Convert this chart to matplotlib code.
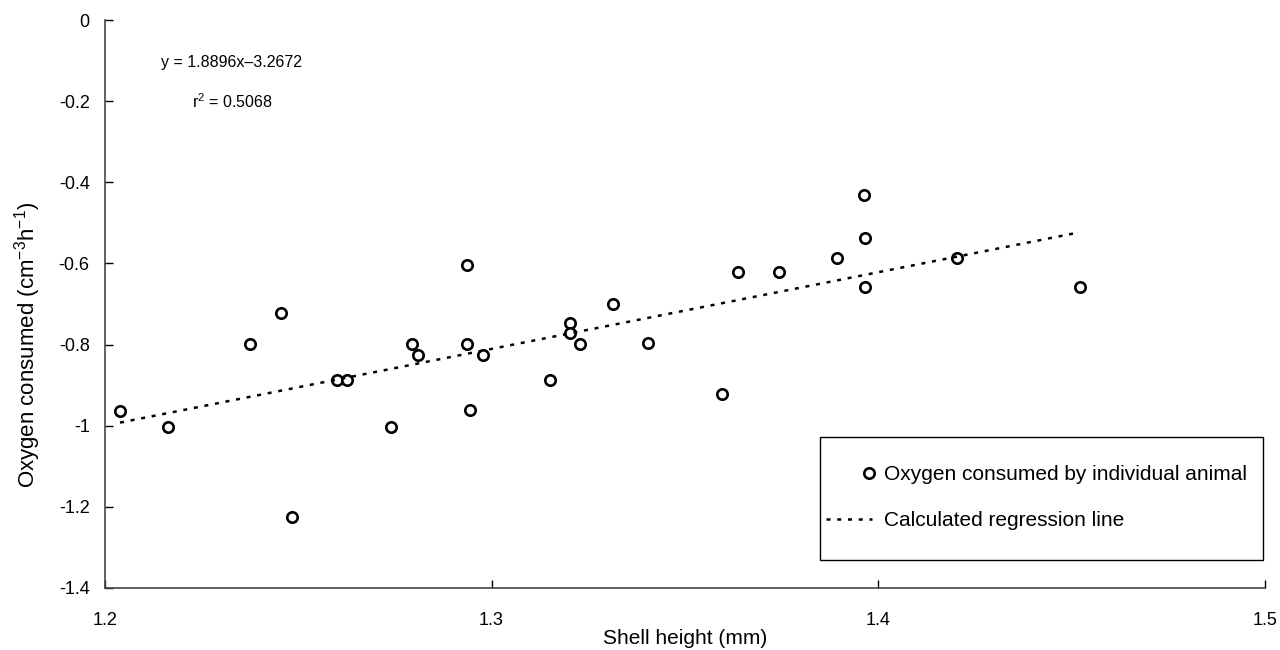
#!/usr/bin/env python3

from matplotlib import pyplot as pl
from matplotlib.patches import Rectangle
from matplotlib.legend_handler import HandlerLine2D
import numpy as np

# shell height (mm) and oxygen consumed, one value per animal
height = [1.2039, 1.2163, 1.2375, 1.2455, 1.2485, 1.2599, 1.2625, 1.2739,
          1.2793, 1.2809, 1.2937, 1.2937, 1.2945, 1.2979, 1.3150, 1.3202,
          1.3202, 1.3230, 1.3313, 1.3406, 1.3597, 1.3638, 1.3744, 1.3894,
          1.3964, 1.3966, 1.3966, 1.4204, 1.4522]
oxygen = [-0.964, -1.003, -0.799, -0.723, -1.225, -0.887, -0.887, -1.003,
          -0.799, -0.826, -0.604, -0.799, -0.961, -0.826, -0.887, -0.747,
          -0.771, -0.799, -0.700, -0.796, -0.922, -0.621, -0.621, -0.587,
          -0.431, -0.537, -0.658, -0.587, -0.658]

slope = 1.8896
intercept = -3.2672


class RightMarker(HandlerLine2D):
    # put the legend marker at the right end of the handle
    # (the middle of the returned span is where the marker goes)
    def get_xdata(self, legend, xdescent, ydescent, width, height, fontsize):
        m = -xdescent + 0.93 * width
        return [m - 1, m + 1], [m]


pl.rcParams['font.family'] = ['Liberation Sans', 'DejaVu Sans']
pl.rcParams['mathtext.fontset'] = 'custom'
pl.rcParams['mathtext.rm'] = 'Liberation Sans'

fig = pl.figure(figsize=(12.8, 6.5), dpi=100)
ax = fig.add_axes([0.082, 0.0954, 0.906, 0.8738])

pts, = ax.plot(height, oxygen, linestyle='none', marker='o', markersize=7.5,
               markerfacecolor='white', markeredgecolor='black',
               markeredgewidth=1.9, label='Oxygen consumed by individual animal')

xfit = np.array([min(height), max(height) - 0.001])
ax.plot(xfit, slope * xfit + intercept, color='black', linewidth=1.8,
        linestyle=(0, (1.6, 2.7)), label='Calculated regression line')

ax.set_xlim(1.2, 1.5)
ax.set_ylim(-1.4, 0)
ax.set_xticks([1.2, 1.3, 1.4, 1.5])
ax.set_xticklabels(['1.2', '1.3', '1.4', '1.5'])
ax.set_yticks(np.arange(-1.4, 0.01, 0.2))
ax.set_yticklabels(['-1.4', '-1.2', '-1', '-0.8', '-0.6', '-0.4', '-0.2', '0'])

ax.spines['top'].set_visible(False)
ax.spines['right'].set_visible(False)
for s in ('left', 'bottom'):
    ax.spines[s].set_color('#444444')
    ax.spines[s].set_linewidth(1.2)
ax.tick_params(direction='in', length=6, width=1, labelsize=13)
ax.tick_params(axis='x', pad=17)
ax.tick_params(axis='y', pad=11)

ax.set_xlabel('Shell height (mm)', fontsize=15, labelpad=0)
ax.set_ylabel(r'Oxygen consumed (cm$\mathregular{^{-3}}$h$\mathregular{^{-1}}$)',
              fontsize=16)
ax.yaxis.set_label_coords(-0.053, 0.428)

ax.text(1.2145, -0.104, 'y = 1.8896x\u20133.2672', fontsize=11.5, va='center')
ax.text(1.2225, -0.2, r'$\mathregular{r^2}$ = 0.5068', fontsize=11.5,
        va='center')

# legend box drawn separately: wide vertical padding in the original
ax.add_patch(Rectangle((0.6164, 0.0493), 0.382, 0.2165,
                       transform=ax.transAxes, facecolor='white',
                       edgecolor='black', linewidth=1.0, zorder=3))
leg = ax.legend(loc='upper left', bbox_to_anchor=(0.622, 0.216),
                fontsize=15, frameon=False, borderpad=0,
                labelspacing=1.3, handlelength=2.2, handletextpad=0.55,
                borderaxespad=0, handler_map={pts: RightMarker()})
leg.set_zorder(4)

fig.savefig('out.png', dpi=100)
